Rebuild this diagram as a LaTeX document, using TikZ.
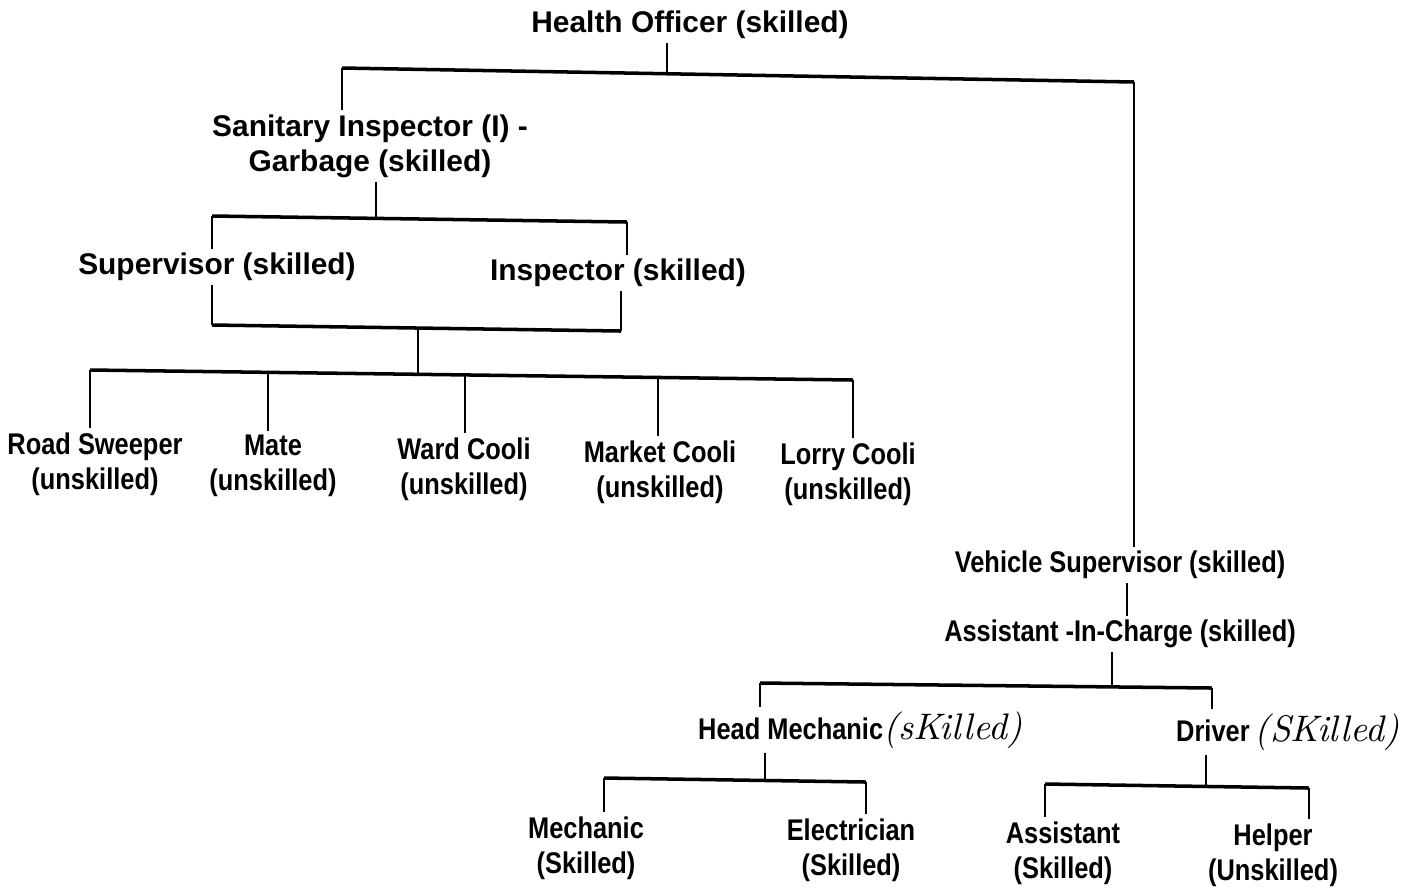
\documentclass[tikz,border=0pt]{standalone}
\usepackage{fontspec}
\newfontfamily\postfamily{Liberation Sans}
\newfontfamily\narrowfamily{Liberation Sans}[FakeStretch=0.85]
\newcommand\hand[1]{{\normalfont\rmfamily\itshape\fontsize{10.5}{11}\selectfont #1}}
\begin{document}
\begin{tikzpicture}[x=0.01cm, y=-0.01cm,
    post/.style={font=\postfamily\bfseries\fontsize{8.5}{10}\selectfont, align=center, inner sep=1pt},
    narrow/.style={post, font=\narrowfamily\bfseries\fontsize{8.5}{10}\selectfont},
    link/.style={line width=0.6pt},
    bar/.style={line width=1pt}]
  \useasboundingbox (0,0) rectangle (1404,890);
  % the posts
  \node[post] (ho) at (690,25) {Health Officer (skilled)};
  \node[post] (si) at (370,146) {Sanitary Inspector (I) -\\Garbage (skilled)};
  \node[post] (sup) at (217,267) {Supervisor (skilled)};
  \node[post] (ins) at (618,273) {Inspector (skilled)};
  \node[narrow] (rs) at (95,464) {Road Sweeper\\(unskilled)};
  \node[narrow] (mate) at (273,466) {Mate\\(unskilled)};
  \node[narrow] (ward) at (464,469) {Ward Cooli\\(unskilled)};
  \node[narrow] (market) at (660,472) {Market Cooli\\(unskilled)};
  \node[narrow] (lorry) at (848,474) {Lorry Cooli\\(unskilled)};
  \node[narrow] (vs) at (1120,565) {Vehicle Supervisor (skilled)};
  \node[narrow] (aic) at (1120,634) {Assistant -In-Charge (skilled)};
  \node[narrow, anchor=west] (hm) at (694,730) {Head Mechanic\hand{(sKilled)}};
  \node[narrow, anchor=west] (drv) at (1172,732) {Driver\hspace{1.5pt}\hand{(SKilled)}};
  \node[narrow] (mech) at (586,848) {Mechanic\\(Skilled)};
  \node[narrow] (elec) at (851,850) {Electrician\\(Skilled)};
  \node[narrow] (asst) at (1063,853) {Assistant\\(Skilled)};
  \node[narrow] (help) at (1273,855) {Helper\\(Unskilled)};
  % junctions on the bars
  \coordinate (topL) at (342,68);
  \coordinate (topR) at (1134,82);
  \coordinate (hoj) at (667,74);
  \coordinate (siL) at (212,216);
  \coordinate (siR) at (627,222);
  \coordinate (sij) at (376,219);
  \coordinate (boxL) at (212,325);
  \coordinate (boxR) at (621,331);
  \coordinate (boxj) at (418,328);
  \coordinate (rowL) at (90,370);
  \coordinate (rowR) at (853,380);
  \coordinate (rowj) at (418,374);
  \coordinate (mateJ) at (268,372);
  \coordinate (wardJ) at (465,375);
  \coordinate (marketJ) at (658,377);
  \coordinate (vsj) at (1127,0);
  \coordinate (aicL) at (760,683);
  \coordinate (aicR) at (1212,688);
  \coordinate (aicj) at (1112,687);
  \coordinate (hmL) at (604,778);
  \coordinate (hmR) at (866,782);
  \coordinate (hmj) at (765,780);
  \coordinate (drvL) at (1045,784);
  \coordinate (drvR) at (1309,788);
  \coordinate (drvj) at (1206,786);
  % Health Officer
  \draw[link] (ho.south -| hoj) -- (hoj);
  \draw[bar] (topL) -- (topR);
  \draw[link] (topL) -- (topL |- si.north);
  \draw[link] (topR) -- (topR |- vs.north);
  % garbage side
  \draw[link] (si.south -| sij) -- (sij);
  \draw[bar] (siL) -- (siR);
  \draw[link] (siL) -- (siL |- sup.north);
  \draw[link] (siR) -- (siR |- ins.north);
  \draw[link] (sup.south -| boxL) -- (boxL);
  \draw[link] (ins.south -| boxR) -- (boxR);
  \draw[bar] (boxL) -- (boxR);
  \draw[link] (boxj) -- (rowj);
  \draw[bar] (rowL) -- (rowR);
  \draw[link] (rowL) -- (rowL |- rs.north);
  \draw[link] (mateJ) -- (mateJ |- mate.north);
  \draw[link] (wardJ) -- (wardJ |- ward.north);
  \draw[link] (marketJ) -- (marketJ |- market.north);
  \draw[link] (rowR) -- (rowR |- lorry.north);
  % vehicle side
  \draw[link] (vs.south -| vsj) -- (aic.north -| vsj);
  \draw[link] (aic.south -| aicj) -- (aicj);
  \draw[bar] (aicL) -- (aicR);
  \draw[link] (aicL) -- (aicL |- hm.north);
  \draw[link] (aicR) -- (aicR |- drv.north);
  \draw[link] (hm.south -| hmj) -- (hmj);
  \draw[bar] (hmL) -- (hmR);
  \draw[link] (hmL) -- (hmL |- mech.north);
  \draw[link] (hmR) -- (hmR |- elec.north);
  \draw[link] (drv.south -| drvj) -- (drvj);
  \draw[bar] (drvL) -- (drvR);
  \draw[link] (drvL) -- (drvL |- asst.north);
  \draw[link] (drvR) -- (drvR |- help.north);
\end{tikzpicture}
\end{document}
